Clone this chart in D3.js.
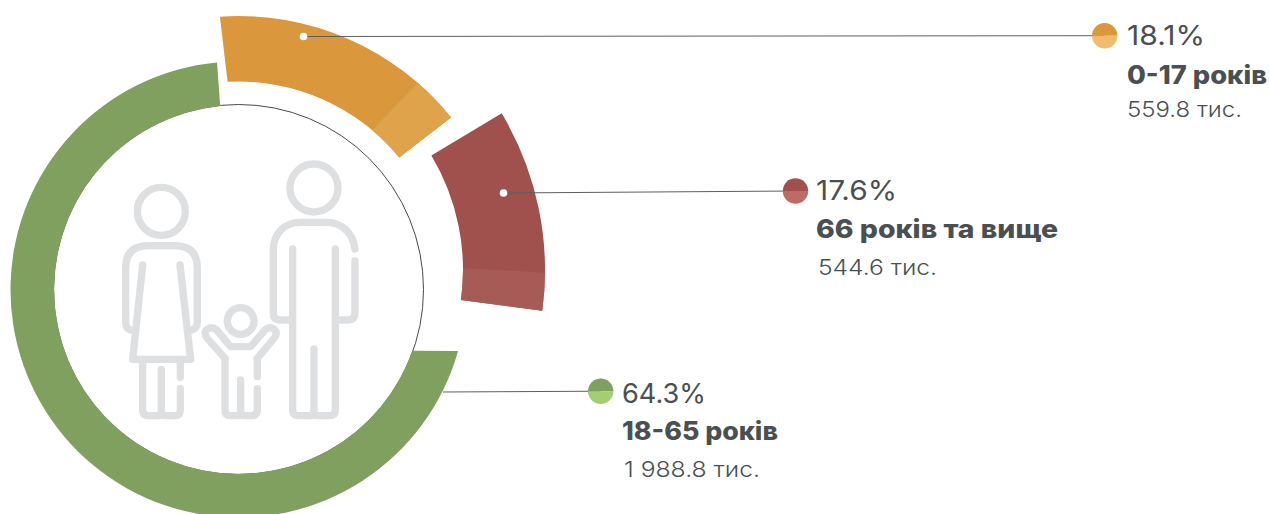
<!DOCTYPE html>
<html><head><meta charset="utf-8">
<script src="https://cdn.jsdelivr.net/npm/d3@7"></script>
<style>html,body{margin:0;padding:0;background:#fff;overflow:hidden}svg{display:block}</style>
</head><body><div id="chart"></div>
<script>
const categories = ["0-17 років", "66 років та вище", "18-65 років"];
const shares = [18.1, 17.6, 64.3];
const amounts = ["559.8 тис.", "544.6 тис.", "1 988.8 тис."];
// Band angles in degrees clockwise from 12 o'clock
const outerStart = [-3.9, 59.1, 105.65];
const outerEnd = [51.0, 97.7, 354.6];
const innerStart = [-3.0, 59.1, 109.4];
const innerEnd = [50.6, 97.7, 354.3];
const shadeStart = [40.5, 90, null];
const darkColors = ["#DA973C", "#A0514D", "#80A05F"];
const lightColors = ["#DFA34B", "#A75B56", null];
const dotLight = ["#F2BB6C", "#BD6B64", "#A5CD72"];
const ringCx = [238.5, 240, 238.5], ringCy = [289.5, 270, 289.5];
const ringInner = [208, 223, 184.3], ringOuter = [273.5, 305, 228];
const anchorX = [303.5, 503.5, 443], anchorY = [36.5, 193, 392];
const dotX = [1104.7, 795.5, 600.7], dotY = [35.7, 191, 391.2];
const textX = [1127, 816, 622];
const baseY = [[45, 84, 117], [199.5, 238, 274.5], [402.5, 440, 476.5]];
const widths = [[78, 140, 115], [81, 242, 119], [84, 156, 136]];

const W = 1269, H = 514, INK = "#4A5052";
const rad = d3.scaleLinear().domain([0, 360]).range([-Math.PI / 2, 1.5 * Math.PI]);

const svg = d3.select("#chart").append("svg").attr("width", W).attr("height", H);

function band(i, a0o, a1o, a0i, a1i) {
  const p = d3.path(), cx = ringCx[i], cy = ringCy[i], ro = ringOuter[i], ri = ringInner[i];
  p.moveTo(cx + ro * Math.cos(rad(a0o)), cy + ro * Math.sin(rad(a0o)));
  p.arc(cx, cy, ro, rad(a0o), rad(a1o));
  p.lineTo(cx + ri * Math.cos(rad(a1i)), cy + ri * Math.sin(rad(a1i)));
  p.arc(cx, cy, ri, rad(a1i), rad(a0i), true);
  p.closePath();
  return p.toString();
}

// thin circle
svg.append("circle").attr("cx", 238.5).attr("cy", 289.5).attr("r", 185)
  .attr("fill", "#fff").attr("stroke", "#454B4D").attr("stroke-width", 1);

categories.forEach((c, i) => {
  svg.append("path").attr("d", band(i, outerStart[i], outerEnd[i], innerStart[i], innerEnd[i])).attr("fill", darkColors[i]);
  if (shadeStart[i] !== null) {
    svg.append("path").attr("d", band(i, shadeStart[i] + 0.5, outerEnd[i], shadeStart[i] - 0.5, innerEnd[i])).attr("fill", lightColors[i]);
  }
});

// family icon
const icon = svg.append("g").attr("transform", "translate(100,150) scale(0.3333)")
  .attr("fill", "none").attr("stroke", "#DEDFE1").attr("stroke-width", 22)
  .attr("stroke-linecap", "round").attr("stroke-linejoin", "round");
[[642, 114, 72], [184, 184, 72], [422, 513, 40]].forEach(h =>
  icon.append("circle").attr("cx", h[0]).attr("cy", h[1]).attr("r", h[2]));
[
  // man
  "M765,297 C760,250 725,217 680,217 L600,217 C555,217 520,250 520,300 L520,490 Q520,510 540,510 L578,510",
  "M578,297 L578,780 Q578,797 595,797 L630,797 Q642,797 642,785 L642,597",
  "M642,785 Q642,797 655,797 L690,797 Q706,797 706,780 L706,297",
  "M765,333 L765,490 Q765,510 745,510 L706,510",
  // woman
  "M92,540 Q77,535 77,515 L77,355 Q77,287 145,287 L225,287 Q292,287 292,355 L292,515 Q292,535 275,540",
  "M128,345 L98,628 L272,628 L240,345",
  "M128,628 L128,780 Q128,797 145,797 L172,797 Q184,797 184,785 L184,658",
  "M184,785 Q184,797 197,797 L225,797 Q241,797 241,780 L241,716",
  "M241,628 L241,682",
  // child
  "M375,625 L375,780 Q375,797 392,797 L412,797 Q422,797 422,785 L422,690",
  "M422,785 Q422,797 432,797 L455,797 Q472,797 472,780 L472,716",
  "M472,680 L472,625",
  "M375,625 L322,565 Q308,550 322,538 Q335,528 350,540 L392,590 L452,590 L495,540 Q510,528 523,538 Q535,550 522,565 L472,625"
].forEach(d => icon.append("path").attr("d", d));

// leaders, dots, labels
categories.forEach((c, i) => {
  svg.append("line").attr("x1", anchorX[i]).attr("y1", anchorY[i]).attr("x2", dotX[i]).attr("y2", dotY[i])
    .attr("stroke", "#5A5F60").attr("stroke-width", 1);
  if (i < 2) svg.append("circle").attr("cx", anchorX[i]).attr("cy", anchorY[i]).attr("r", 3.8).attr("fill", "#fff");
  const half = (a, b) => { const p = d3.path(); p.arc(dotX[i], dotY[i], 12.7, a, b); p.closePath(); return p.toString(); };
  svg.append("path").attr("d", half(Math.PI, 2 * Math.PI)).attr("fill", darkColors[i]);
  svg.append("path").attr("d", half(0, Math.PI)).attr("fill", dotLight[i]);

  const t = (s, k, size, weight, dx) => svg.append("text").text(s)
    .attr("x", textX[i] + dx).attr("y", baseY[i][k])
    .attr("font-family", "Inter, 'Noto Sans', sans-serif").attr("font-size", size).attr("font-weight", weight)
    .attr("fill", INK).attr("textLength", widths[i][k]).attr("lengthAdjust", "spacingAndGlyphs");
  t(shares[i].toFixed(1) + "%", 0, 27.5, 400, 0);
  t(c, 1, 25.5, 800, 0);
  t(amounts[i], 2, 22, 300, i === 0 ? 0 : 2);
});
</script></body></html>
